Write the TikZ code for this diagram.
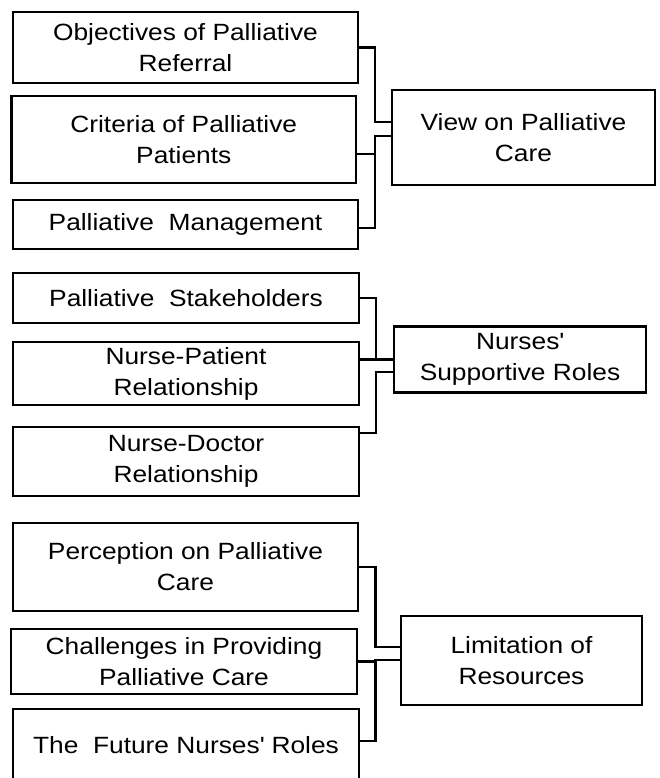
\documentclass[tikz,border=0pt]{standalone}
\usepackage{fontspec}
\setmainfont{Liberation Sans}[FakeStretch=1.12]
\usetikzlibrary{calc}

\tikzset{blk/.style={draw,line width=2.2pt,align=center,inner sep=0pt,font=\fontsize{23.5}{31}\selectfont},
  lnk/.style={line width=2.2pt}}

\begin{document}
\begin{tikzpicture}[x=1pt,y=-1pt]
\useasboundingbox (0,0) rectangle (660,778);

% first group
\node[blk,minimum width=345,minimum height=71] (obj) at (185.5,47.5) {Objectives of Palliative\\Referral};
\node[blk,minimum width=344.5,minimum height=87] (crit) at (183.75,139.5) {Criteria of Palliative\\Patients};
\node[blk,minimum width=345,minimum height=49] (mgmt) at (185.5,224.5) {Palliative\ \ Management};
\node[blk,minimum width=263,minimum height=95] (view) at (523.5,137.5) {View on Palliative\\Care};

\coordinate (v1) at (375,122);
\coordinate (v2) at (375,136);
\draw[lnk] (obj.east) -| (v1) -- (v1 -| view.west); % objectives - view
\draw[lnk] ([yshift=-14.5pt]crit.east) -| (v2) -- (v2 -| view.west); % criteria - view
\draw[lnk] ([yshift=-3.5pt]mgmt.east) -| (v2); % management - view

% second group
\node[blk,minimum width=346,minimum height=50] (stake) at (186,298) {Palliative\ \ Stakeholders};
\node[blk,minimum width=346,minimum height=63] (npr) at (186,373.5) {Nurse-Patient\\Relationship};
\node[blk,minimum width=346,minimum height=69] (ndr) at (186,461.5) {Nurse-Doctor\\Relationship};
\node[blk,minimum width=252,minimum height=66] (sup) at (520,359.5) {Nurses\textquotesingle\\Supportive Roles};

\coordinate (w1) at (376,359.5);
\coordinate (w2) at (376,372);
\draw[lnk] (stake.east) -| (w1) -- (w1 -| sup.west); % stakeholders - roles
\draw[lnk] (sup.west) -- (sup.west -| npr.east); % patient - roles
\draw[lnk] ([yshift=28.2pt]ndr.east) -| (w2) -- (w2 -| sup.west); % doctor - roles

% third group
\node[blk,minimum width=345,minimum height=88] (perc) at (185.5,567) {Perception on Palliative\\Care};
\node[blk,minimum width=346,minimum height=65] (chal) at (184,661.5) {Challenges in Providing\\Palliative Care};
\node[blk,minimum width=346,minimum height=72] (fut) at (186,745) {The\ \ Future Nurses\textquotesingle\ Roles};
\node[blk,minimum width=241,minimum height=89] (lim) at (521.5,660.5) {Limitation of\\Resources};

\coordinate (u1) at (375.5,646.7);
\coordinate (u2) at (375.5,660);
\draw[lnk] (perc.east) -| (u1) -- (u1 -| lim.west); % perception - limitation
\draw[lnk] (chal.east) -- (chal.east -| u2) |- (u2) -- (u2 -| lim.west); % challenges - limitation
\draw[lnk] ([yshift=4.3pt]fut.east) -| (u2); % future - limitation

\end{tikzpicture}
\end{document}
